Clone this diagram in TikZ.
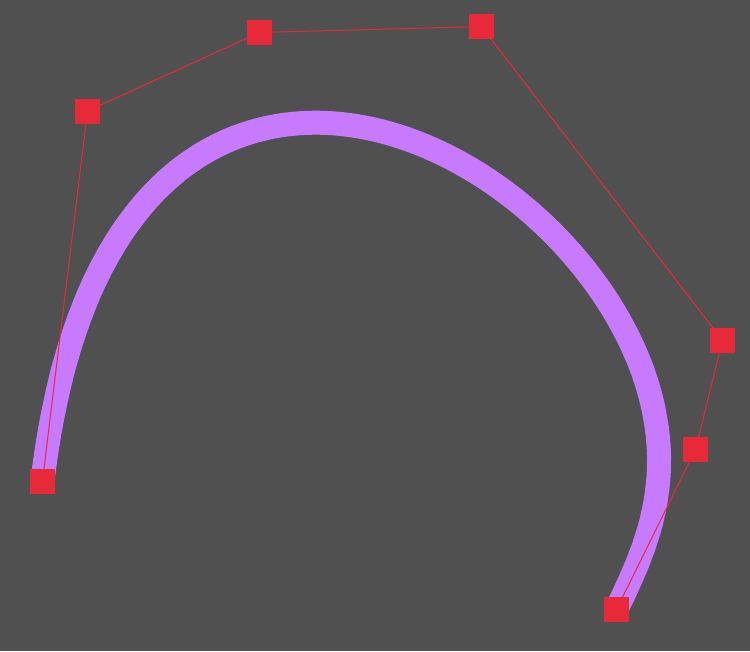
\documentclass[tikz,border=0pt]{standalone}
\definecolor{bg}{HTML}{505050}
\definecolor{ctrlred}{HTML}{E8293A}
\definecolor{curvepurple}{HTML}{C87AFF}
\begin{document}
\begin{tikzpicture}[x=1pt,y=-1pt,
  ctrlpt/.style={fill=ctrlred,draw=none,minimum size=25pt,inner sep=0pt,outer sep=0pt,rectangle},
  polyline/.style={draw=ctrlred,line width=1pt},
  bcurve/.style={draw=curvepurple,line width=24pt,line cap=butt},
  declare function={
    bx(\t)=42.5*(1-\t)^6+525*\t*(1-\t)^5+3892.5*\t^2*(1-\t)^4+9630*\t^3*(1-\t)^3+10837.5*\t^4*(1-\t)^2+4173*\t^5*(1-\t)+616.5*\t^6;
    by(\t)=481*(1-\t)^6+666*\t*(1-\t)^5+487.5*\t^2*(1-\t)^4+530*\t^3*(1-\t)^3+5107.5*\t^4*(1-\t)^2+2697*\t^5*(1-\t)+609.5*\t^6;
  }]
\fill[bg] (0,0) rectangle (750,651);
\useasboundingbox (0,0) rectangle (750,651);
\draw[bcurve] plot[domain=0:1,samples=300,smooth] ({bx(\x)},{by(\x)});
\node[ctrlpt] (p0) at (42.5,481) {};
\node[ctrlpt] (p1) at (87.5,111) {};
\node[ctrlpt] (p2) at (259.5,32.5) {};
\node[ctrlpt] (p3) at (481.5,26.5) {};
\node[ctrlpt] (p4) at (722.5,340.5) {};
\node[ctrlpt] (p5) at (695.5,449.5) {};
\node[ctrlpt] (p6) at (616.5,609.5) {};
\draw[polyline] (p0.center) -- (p1.center) -- (p2.center) -- (p3.center) -- (p4.center) -- (p5.center) -- (p6.center);
\foreach \n/\x/\y in {p0/42.5/481,p1/87.5/111,p2/259.5/32.5,p3/481.5/26.5,p4/722.5/340.5,p5/695.5/449.5,p6/616.5/609.5}
  \fill[ctrlred] (\x-12.5,\y-12.5) rectangle (\x+12.5,\y+12.5);
\end{tikzpicture}
\end{document}
